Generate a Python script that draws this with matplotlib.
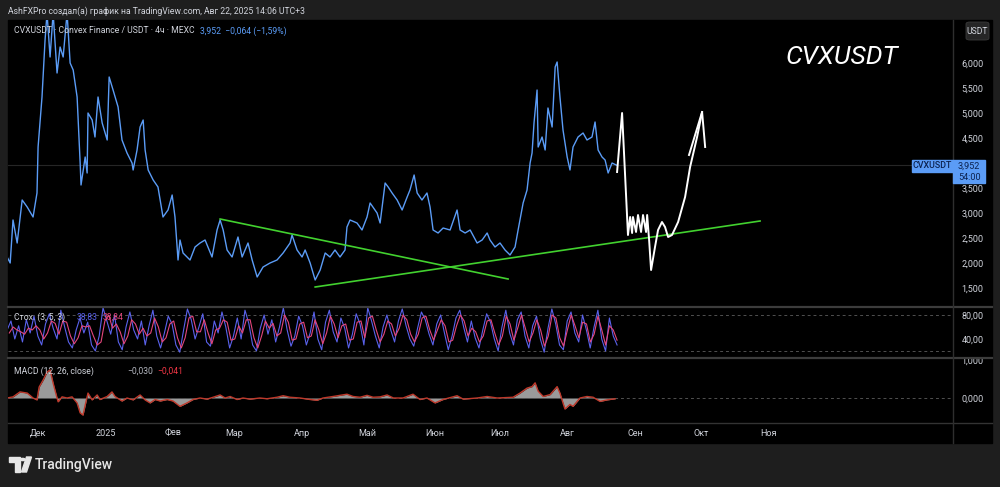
import numpy as np
import matplotlib.pyplot as plt
from matplotlib.patches import Rectangle, Polygon, Circle, FancyBboxPatch
from matplotlib.lines import Line2D

plt.rcParams['font.family'] = ['Roboto', 'DejaVu Sans']

# days since 2024-12-01, price in USDT (4h close)
price_days = [-14.2, -12.8, -11.5, -9.6, -7.3, -5.0, -2.3, -0.5, 0.0, 1.8, 3.2, 4.1, 5.5, 6.9,
              8.7, 10.1, 11.5, 13.3, 14.7, 16.1, 17.9, 19.3, 19.7, 21.6, 22.5, 22.9, 24.8, 26.1,
              27.5, 29.4, 31.7, 32.6, 34.4, 36.7, 38.5, 40.8, 43.1, 43.6, 45.4, 46.8, 48.2, 49.1,
              50.5, 52.8, 55.0, 57.3, 59.6, 61.5, 62.8, 64.2, 65.1, 66.5, 69.7, 72.0, 74.3, 76.6,
              79.8, 82.1, 83.5, 84.9, 86.7, 89.0, 91.7, 93.6, 96.3, 98.2, 100.5, 103.2, 106.4,
              109.6, 112.4, 115.6, 116.5, 118.8, 121.1, 122.5, 124.8, 127.1, 129.4, 131.7, 133.9,
              136.2, 138.5, 140.8, 141.7, 143.1, 146.3, 148.6, 150.9, 152.3, 155.5, 156.9, 159.2,
              160.6, 162.4, 164.7, 167.0, 169.3, 170.6, 172.5, 173.9, 176.1, 178.4, 179.8, 181.2,
              183.5, 185.8, 189.0, 192.2, 193.6, 195.9, 198.2, 201.4, 203.7, 206.0, 207.3, 209.6,
              211.9, 214.2, 216.5, 218.8, 220.2, 222.5, 224.3, 225.7, 226.6, 227.5, 228.9, 229.4,
              231.2, 232.6, 233.9, 235.8, 237.2, 238.1, 239.4, 240.8, 242.7, 244.0, 245.4, 247.7,
              250.0, 251.8, 254.1, 255.5, 256.9, 258.7, 260.1, 261.5, 263.3, 265.6]
prices = [2120, 2000, 2860, 2400, 3260, 3120, 2920, 3400, 4320, 5320, 6460, 7000, 6120, 7000,
          5800, 6320, 6120, 7000, 6000, 5860, 5320, 4000, 3560, 4120, 3800, 5000, 4860, 4520,
          5320, 4800, 4460, 5720, 5460, 5120, 4460, 4200, 4000, 3860, 4260, 4720, 4860, 4260,
          3860, 3660, 3520, 2920, 3060, 3360, 2920, 2060, 2460, 2200, 2060, 2320, 2400, 2460,
          2120, 2660, 2860, 2660, 2260, 2120, 2520, 2120, 2400, 2060, 1720, 1920, 2000,
          2060, 2200, 2400, 2560, 2260, 2120, 2260, 2000, 1660, 1860, 2200, 2120,
          2260, 2120, 2260, 2720, 2860, 2800, 2660, 2920, 3200, 3000, 2800, 3600,
          3520, 3400, 3260, 3060, 3320, 3460, 3760, 3400, 3260, 3400, 3120, 2660,
          2600, 2700, 2660, 3060, 2660, 2600, 2660, 2400, 2460, 2600, 2460, 2320,
          2400, 2260, 2160, 2320, 2660, 3200, 3460, 4000, 4200, 4800, 5460, 4320,
          4520, 4260, 5100, 4720, 5920, 6020, 5320, 4660, 4120, 3860, 4320, 4520,
          4600, 4460, 4520, 4820, 4260, 4120, 4060, 3800, 4000, 3952]
last_price = 3952

# hand drawn projection (white)
proj_days = [265.6, 267.9, 270.6, 271.6, 272.5, 272.9, 274.3, 275.2, 276.6, 277.5, 278.9, 279.4,
             280.3, 281.2, 283.0, 284.4, 286.2, 287.6, 289.0, 290.8, 293.6, 296.8, 299.1, 302.3, 304.6]
proj_prices = [3820, 5000, 2560, 2920, 2600, 2920, 2620, 2960, 2620, 2960, 2620, 2960,
               2460, 1860, 2320, 2660, 2820, 2720, 2520, 2560, 2820, 3320, 3920, 4520, 5020]
arrow_days = [298.6, 304.6, 306.0]
arrow_prices = [4160, 5020, 4320]

# trend lines (green)
down_days, down_prices = [83.5, 215.6], [2880, 1680]
up_days, up_prices = [127.1, 331.2], [1520, 2840]

# stochastic (3, 5, 3)
stoch_k = [55, 70, 40, 62, 35, 72, 50, 78, 45, 30, 65, 82, 58, 40, 88, 60, 35, 25, 55, 75, 50, 68,
           30, 20, 45, 92, 70, 48, 80, 35, 22, 60, 85, 55, 40, 70, 30, 62, 88, 45, 25, 50, 78, 65,
           30, 18, 55, 90, 72, 40, 60, 82, 35, 28, 70, 50, 85, 60, 25, 45, 75, 40, 88, 66, 30, 20,
           58, 80, 48, 72, 35, 60, 92, 55, 28, 45, 78, 62, 30, 50, 85, 40, 22, 68, 88, 52, 35, 75,
           58, 25, 48, 82, 65, 30, 92, 70, 45, 25, 60, 80, 55, 35, 70, 90, 62, 40, 28, 58, 85, 72,
           48, 30, 65, 80, 50, 22, 45, 75, 88, 60, 35, 70, 42, 25, 55, 82, 68, 40, 20, 60, 88, 50,
           30, 72, 85, 45, 25, 62, 78, 40, 18, 58, 90, 65, 30, 22, 70, 85, 50, 35, 80, 55, 25, 60,
           88, 40, 20, 75, 45, 30]
stoch_d = [50, 60, 55, 52, 48, 58, 55, 62, 55, 40, 50, 70, 66, 48, 70, 68, 45, 32, 42, 62, 60, 62,
           45, 30, 35, 70, 80, 58, 65, 52, 32, 45, 72, 65, 48, 58, 45, 50, 75, 60, 35, 42, 65, 70,
           42, 25, 42, 75, 78, 52, 52, 72, 50, 32, 55, 58, 72, 68, 38, 40, 62, 50, 72, 72, 42, 25,
           45, 70, 58, 66, 45, 50, 80, 68, 38, 40, 65, 68, 42, 45, 72, 55, 32, 50, 78, 65, 42, 62,
           65, 38, 40, 68, 70, 42, 75, 78, 55, 35, 48, 70, 65, 45, 58, 80, 72, 48, 35, 48, 75, 78,
           55, 38, 55, 72, 62, 35, 38, 62, 80, 70, 45, 58, 52, 35, 45, 70, 72, 50, 30, 45, 78, 65,
           38, 58, 80, 58, 35, 50, 72, 55, 28, 45, 80, 75, 42, 28, 55, 80, 62, 42, 68, 65, 35, 48,
           78, 55, 30, 62, 55, 38]

# MACD (12, 26, close)
macd_days = [-14.2, -11.5, -8.3, -5.0, -2.3, -0.5, 0.5, 2.3, 4.1, 5.5, 6.9, 8.7, 9.2, 11.0, 13.3,
             15.6, 17.9, 19.3, 20.6, 22.0, 22.9, 24.8, 27.1, 28.4, 31.7, 33.9, 35.3, 38.5, 40.8,
             43.6, 46.8, 49.1, 51.4, 53.7, 56.0, 59.2, 61.9, 65.1, 68.3, 71.1, 74.3, 77.5, 80.3,
             83.5, 85.8, 88.1, 91.3, 94.0, 97.2, 101.8, 105.0, 109.6, 112.4, 115.6, 120.2, 124.8,
             128.0, 130.7, 135.3, 141.7, 144.5, 147.7, 150.9, 153.7, 156.9, 160.1, 163.0, 167.4,
             172.0, 175.2, 178.4, 182.1, 185.8, 192.2, 195.0, 201.4, 206.0, 210.6, 217.9, 221.1,
             224.3, 226.6, 228.0, 229.4, 231.7, 234.9, 238.1, 239.4, 240.8, 241.7, 244.0, 245.4,
             248.6, 251.8, 254.6, 257.8, 261.0, 264.7]
macd_vals = [0, 0.03, 0.16, 0.13, 0, -0.05, 0.29, 0.47, 0.68, 0.74, 0.39, 0, -0.1, 0.03, 0,
             0.03, -0.13, -0.39, -0.45, -0.09, 0.13, -0.05, 0.08, -0.04, 0.04, 0.16, 0.04, -0.08, 0,
             -0.05, 0.08, -0.05, -0.13, -0.04, -0.08, -0.04, -0.08, -0.22, -0.13, -0.04, 0, -0.03, 0.02,
             0.08, 0, 0.04, -0.04, 0, -0.03, 0, -0.02, 0.02, 0.06, 0.02, 0, -0.04,
             -0.06, 0, 0.04, 0.1, 0.04, 0.02, 0.07, 0.02, 0.03, 0.08, 0, 0,
             0.1, -0.04, 0, -0.13, -0.04, 0.06, -0.03, 0, 0.04, 0, 0.02, 0.13,
             0.26, 0.3, 0.4, 0.18, 0.04, 0.09, 0.3, 0.13, -0.13, -0.29, -0.17, -0.22,
             0, 0.04, 0.02, -0.09, -0.05, -0.02]

month_days = [0, 31, 62, 90, 121, 151, 182, 212, 243, 274, 304, 335]
month_labels = ['Дек', '2025', 'Фев', 'Мар', 'Апр', 'Май', 'Июн', 'Июл', 'Авг', 'Сен', 'Окт', 'Ноя']
price_ticks = [1500, 2000, 2500, 3000, 3500, 4500, 5000, 5500, 6000]

W, H = 1000, 487
TXT = '#d1d4dc'
BLUE = '#5b9cf6'
FS = 6.2


def rect(x0, y0, x1, y1):
    return [x0 / W, 1 - y1 / H, (x1 - x0) / W, (y1 - y0) / H]


def fx(x):
    return x / W


def fy(y):
    return 1 - y / H


fig = plt.figure(figsize=(10, 4.87), dpi=100, facecolor='#1e1e1e')
fig.patches.append(Rectangle((fx(8), fy(443)), 984 / W, 423 / H, transform=fig.transFigure,
                             color='black', zorder=-5))

xlim = (-13.8, 419.7)
ax = fig.add_axes(rect(8, 20, 953, 307))
ax_st = fig.add_axes(rect(8, 307, 953, 358))
ax_m = fig.add_axes(rect(8, 358, 953, 423))
for a in (ax, ax_st, ax_m):
    a.set_facecolor('black')
    a.set_xlim(*xlim)
    for s in a.spines.values():
        s.set_visible(False)
    a.yaxis.tick_right()
    a.tick_params(axis='y', length=0, pad=6, colors=TXT, labelsize=6.5)
    a.tick_params(axis='x', length=0)
    a.set_xticks([])

# main pane
ax.set_ylim(1120, 6860)
ax.axhline(last_price, color='#262626', lw=0.8)
ax.plot(price_days, prices, color=BLUE, lw=1.0)
ax.plot(down_days, down_prices, color='#42d12f', lw=1.2)
ax.plot(up_days, up_prices, color='#42d12f', lw=1.2)
ax.plot(proj_days, proj_prices, color='white', lw=1.4)
ax.plot(arrow_days, arrow_prices, color='white', lw=1.4)
ax.set_yticks(price_ticks)
ax.set_yticklabels([f'{v:,}' for v in price_ticks])
ax.text(0.006, 0.962, 'CVXUSDT · Convex Finance / USDT · 4ч · MEXC', transform=ax.transAxes,
        color=TXT, fontsize=FS, va='center')
ax.text(0.203, 0.962, '3,952  −0,064 (−1,59%)', transform=ax.transAxes,
        color=BLUE, fontsize=FS, va='center')
ax.text(0.882, 0.87, 'CVXUSDT', transform=ax.transAxes, color='white', fontsize=19,
        style='italic', ha='center', va='center')

# stochastic pane
ax_st.set_ylim(8.3, 93.3)
for lvl in (80, 20):
    ax_st.axhline(lvl, color='#505050', lw=0.7, ls=(0, (3, 3)))
ax_st.plot(np.linspace(-14.2, 265.6, len(stoch_k)), stoch_k, color='#5a62ec', lw=0.8)
ax_st.plot(np.linspace(-13.2, 265.6, len(stoch_d)), stoch_d, color='#e4467c', lw=0.8)
ax_st.set_yticks([80, 40])
ax_st.set_yticklabels(['80,00', '40,00'])
ax_st.text(0.006, 0.8, 'Стох. (3, 5, 3)', transform=ax_st.transAxes, color=TXT, fontsize=FS,
           va='center')
ax_st.text(0.073, 0.8, '38,83', transform=ax_st.transAxes, color='#5a62ec', fontsize=FS,
           va='center')
ax_st.text(0.100, 0.8, '33,84', transform=ax_st.transAxes, color='#e4467c', fontsize=FS,
           va='center')

# MACD pane
ax_m.set_ylim(-0.658, 1.053)
ax_m.axhline(0, color='#505050', lw=0.7, ls=(0, (3, 3)))
ax_m.fill_between(macd_days, macd_vals, 0, color='#9a9a9a', lw=0)
ax_m.plot(macd_days, macd_vals, color='#c0392b', lw=1.0)
ax_m.set_yticks([1.0, 0.0])
ax_m.set_yticklabels(['1,000', '0,000'])
ax_m.text(0.006, 0.8, 'MACD (12, 26, close)', transform=ax_m.transAxes, color=TXT, fontsize=FS,
          va='center')
ax_m.text(0.126, 0.8, '−0,030', transform=ax_m.transAxes, color='#b2b5be', fontsize=FS,
          va='center')
ax_m.text(0.158, 0.8, '−0,041', transform=ax_m.transAxes, color='#f23645', fontsize=FS,
          va='center')
ax_m.set_xticks(month_days)
ax_m.set_xticklabels(month_labels)
ax_m.tick_params(axis='x', colors=TXT, labelsize=6.5, pad=4)

# separators
for y, c, lw in ((307, '#3c3c3c', 1.6), (358, '#3c3c3c', 1.6), (423, '#333333', 1.0)):
    fig.add_artist(Line2D([fx(8), fx(992)], [fy(y), fy(y)], color=c, lw=lw))
fig.add_artist(Line2D([fx(953), fx(953)], [fy(20), fy(443)], color='#2e2e2e', lw=1.0))

# price labels on the scale
fig.patches.append(Rectangle((fx(912), fy(172)), 41 / W, 12 / H, transform=fig.transFigure,
                             color=BLUE, zorder=5))
fig.patches.append(Rectangle((fx(953), fy(183)), 32 / W, 23 / H, transform=fig.transFigure,
                             color=BLUE, zorder=5))
fig.text(fx(932.5), fy(166), 'CVXUSDT', color='#0c2350', fontsize=6.4, fontweight='medium',
         ha='center', va='center', zorder=6)
fig.text(fx(958), fy(166), '3,952', color='#0c2350', fontsize=6.6, ha='left', va='center', zorder=6)
fig.text(fx(958), fy(177), '54:00', color='#0c2350', fontsize=6.6, ha='left', va='center', zorder=6)

fig.patches.append(FancyBboxPatch((fx(966), fy(40)), 23 / W, 18 / H, transform=fig.transFigure,
                                  boxstyle='round,pad=0,rounding_size=0.004', fc='#262626',
                                  ec='#3a3a3a', lw=0.6, zorder=5))
fig.text(fx(977.5), fy(31), 'USDT', color=TXT, fontsize=6.2, ha='center', va='center', zorder=6)

# header and footer
fig.text(fx(8), fy(11), 'AshFXPro создал(а) график на TradingView.com, Авг 22, 2025 14:06 UTC+3',
         color=TXT, fontsize=FS, va='center')
fig.patches.append(Polygon([(fx(9), fy(457)), (fx(20), fy(457)), (fx(20), fy(472)), (fx(14.5), fy(472)),
                            (fx(14.5), fy(462)), (fx(9), fy(462))], closed=True,
                           transform=fig.transFigure, color='#e6e6e6'))
fig.patches.append(Circle((fx(22.8), fy(459.5)), 2.3 / W, transform=fig.transFigure, color='#e6e6e6'))
fig.patches.append(Polygon([(fx(26.5), fy(457)), (fx(31.5), fy(457)), (fx(26.5), fy(472)), (fx(21.5), fy(472))],
                           closed=True, transform=fig.transFigure, color='#e6e6e6'))
fig.text(fx(35), fy(465), 'TradingView', color='#e6e6e6', fontsize=10, fontweight='medium',
         va='center')

plt.savefig('out.png', dpi=100, facecolor=fig.get_facecolor())
